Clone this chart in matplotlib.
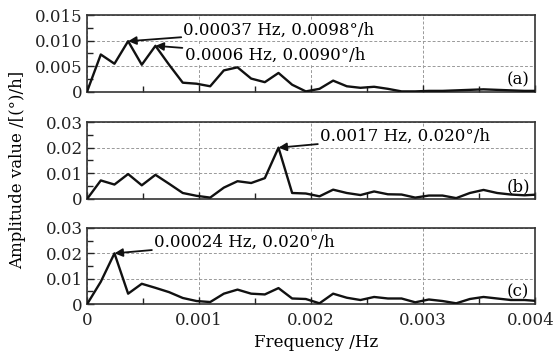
import matplotlib
matplotlib.use("Agg")
import matplotlib.pyplot as plt
from matplotlib.ticker import MultipleLocator, FixedLocator
from matplotlib.transforms import ScaledTranslation

plt.rcParams['font.family'] = ['DejaVu Serif']
plt.rcParams['mathtext.fontset'] = 'dejavuserif'

freq = [0.0, 0.000122, 0.000244, 0.000366, 0.000488, 0.00061, 0.000732, 0.000854,
        0.000977, 0.001099, 0.001221, 0.001343, 0.001465, 0.001587, 0.001709, 0.001831,
        0.001953, 0.002075, 0.002197, 0.002319, 0.002441, 0.002563, 0.002686, 0.002808,
        0.00293, 0.003052, 0.003174, 0.003296, 0.003418, 0.00354, 0.003662, 0.003784,
        0.003906, 0.004028]

amp_a = [0.0001, 0.0073, 0.0055, 0.0099, 0.0053, 0.0090, 0.0053, 0.0018,
         0.0016, 0.0011, 0.0042, 0.0048, 0.0026, 0.0019, 0.0037, 0.0014,
         0.0001, 0.0006, 0.0022, 0.0011, 0.0008, 0.0010, 0.0006, 0.0001,
         0.0001, 0.0002, 0.0002, 0.0003, 0.0004, 0.0005, 0.0004, 0.0003,
         0.0002, 0.0002]

amp_b = [0.0, 0.0072, 0.0056, 0.0097, 0.0053, 0.0094, 0.0059, 0.0023,
         0.0012, 0.0005, 0.0044, 0.0069, 0.0062, 0.0081, 0.0200, 0.0023,
         0.0021, 0.0010, 0.0036, 0.0023, 0.0015, 0.0029, 0.0018, 0.0017,
         0.0005, 0.0013, 0.0013, 0.0003, 0.0023, 0.0035, 0.0023, 0.0017,
         0.0014, 0.0017]

amp_c = [0.0, 0.0088, 0.0200, 0.0041, 0.0080, 0.0064, 0.0047, 0.0024,
         0.0012, 0.0008, 0.0041, 0.0057, 0.0041, 0.0038, 0.0063, 0.0022,
         0.0020, 0.0003, 0.0041, 0.0025, 0.0016, 0.0028, 0.0022, 0.0022,
         0.0007, 0.0018, 0.0012, 0.0003, 0.0020, 0.0028, 0.0022, 0.0016,
         0.0016, 0.0012]

panel_labels = ['(a)', '(b)', '(c)']
x_ticks = [0, 0.001, 0.002, 0.003, 0.004]
x_ticklabels = ['0', '0.001', '0.002', '0.003', '0.004']
yticks_a = [0, 0.005, 0.010, 0.015]
yticklabels_a = ['0', '0.005', '0.010', '0.015']
yticks_bc = [0, 0.01, 0.02, 0.03]
yticklabels_bc = ['0', '0.01', '0.02', '0.03']

annotations = [
    # panel, text, point xy, text xy
    (0, '0.00037 Hz, 0.0098°/h', (0.000366, 0.0099), (0.00086, 0.0121)),
    (0, '0.0006 Hz, 0.0090°/h', (0.00061, 0.0090), (0.00087, 0.0072)),
    (1, '0.0017 Hz, 0.020°/h', (0.001709, 0.0200), (0.00208, 0.0245)),
    (2, '0.00024 Hz, 0.020°/h', (0.000244, 0.0200), (0.000598, 0.0245)),
]

fig = plt.figure(figsize=(5.55, 3.59), dpi=100)
L, W = 0.157, 0.807
axes = [fig.add_axes([L, 0.744, W, 0.214]),
        fig.add_axes([L, 0.446, W, 0.214]),
        fig.add_axes([L, 0.153, W, 0.212])]

series = [amp_a, amp_b, amp_c]
for i, ax in enumerate(axes):
    ax.plot(freq, series[i], color='#111111', lw=1.7, zorder=3, clip_on=True)
    ax.set_xlim(0, 0.004)
    if i == 0:
        ax.set_ylim(0, 0.015)
        ax.yaxis.set_major_locator(FixedLocator(yticks_a))
        ax.set_yticklabels(yticklabels_a)
        ax.yaxis.set_minor_locator(MultipleLocator(0.0025))
    else:
        ax.set_ylim(0, 0.03)
        ax.yaxis.set_major_locator(FixedLocator(yticks_bc))
        ax.set_yticklabels(yticklabels_bc)
        ax.yaxis.set_minor_locator(MultipleLocator(0.005))
    ax.xaxis.set_major_locator(FixedLocator(x_ticks))
    ax.xaxis.set_minor_locator(MultipleLocator(0.0005))
    if i == 2:
        ax.set_xticklabels(x_ticklabels)
    else:
        ax.set_xticklabels([])
    ax.tick_params(which='both', direction='in', labelsize=12, width=1.0,
                   colors='#222222')
    ax.tick_params(axis='y', pad=3)
    ax.tick_params(axis='x', pad=6)
    ax.tick_params(which='major', length=5)
    ax.tick_params(which='minor', length=4)
    ax.grid(True, which='major', color='#999999', linestyle=(0, (3, 2)), lw=0.7)
    for s in ax.spines.values():
        s.set_linewidth(1.2)
        s.set_color('#333333')
    ax.text(0.962, 0.16, panel_labels[i], transform=ax.transAxes, ha='center',
            va='center', fontsize=12, zorder=5)

# nudge the last x tick label so it stays inside the figure
last = axes[2].get_xticklabels()[-1]
last.set_transform(last.get_transform() + ScaledTranslation(-4 / 100, 0, fig.dpi_scale_trans))

for p, txt, xy, xytext in annotations:
    axes[p].annotate(txt, xy=xy, xytext=xytext, fontsize=12, ha='left', va='center',
                     zorder=6,
                     bbox=dict(boxstyle='square,pad=0.05', fc='white', ec='none'),
                     arrowprops=dict(arrowstyle='-|>', color='#111111', lw=1.3,
                                     mutation_scale=12, shrinkA=1, shrinkB=0))

fig.text(0.031, 0.526, 'Amplitude value /[(°)/h]', rotation=90, ha='center',
         va='center', fontsize=12)
fig.text(0.569, 0.045, 'Frequency /Hz', ha='center', va='center', fontsize=12)

fig.savefig('out.png', dpi=100, facecolor='white')
